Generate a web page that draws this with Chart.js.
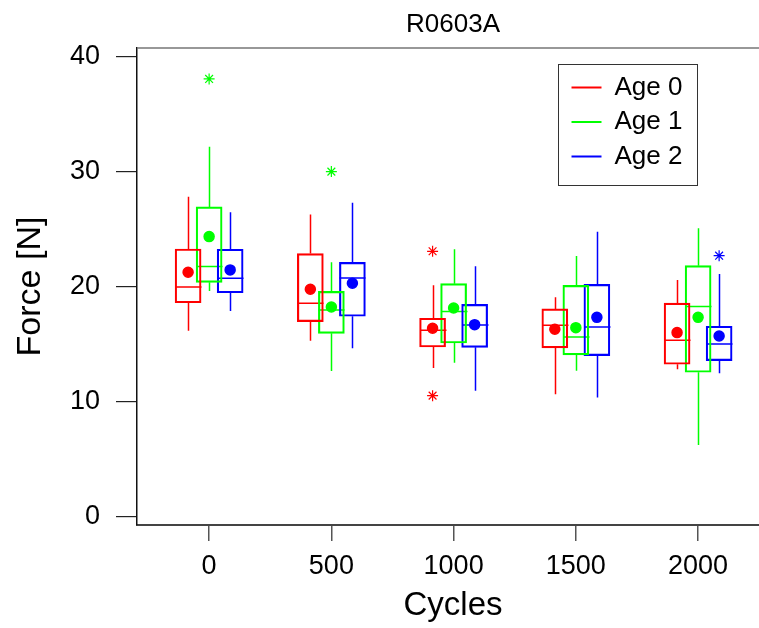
<!DOCTYPE html>
<html>
<head>
<meta charset="utf-8">
<script src="https://cdn.jsdelivr.net/npm/chart.js@4/dist/chart.umd.min.js"></script>
<style>
html, body { margin: 0; padding: 0; overflow: hidden; background: #fff; }
#wrap { width: 780px; height: 628px; }
</style>
</head>
<body>
<div id="wrap"><canvas id="chart" width="780" height="628"></canvas></div>
<script>
const cycles = [0, 500, 1000, 1500, 2000];
const yTicks = [0, 10, 20, 30, 40];
const ageLabels = ['Age 0', 'Age 1', 'Age 2'];

// one row per age, one value per cycle count
const whiskerLow = [
    [16.2, 15.33, 12.96, 10.67, 12.84],
    [19.65, 12.7, 13.42, 12.72, 6.26],
    [17.9, 14.67, 10.98, 10.38, 12.5]
];
const q1 = [
    [18.63, 16.98, 14.78, 14.7, 13.28],
    [20.4, 15.97, 15.13, 14.09, 12.58],
    [19.5, 17.45, 14.75, 14.03, 13.59]
];
const median = [
    [20.0, 18.58, 16.23, 16.67, 15.36],
    [21.77, 18.0, 17.86, 15.65, 18.29],
    [20.75, 20.78, 16.7, 16.52, 15.04]
];
const q3 = [
    [23.3, 22.9, 17.28, 18.09, 18.6],
    [26.96, 19.62, 20.29, 20.14, 21.85],
    [23.28, 22.14, 18.49, 20.23, 16.58]
];
const whiskerHigh = [
    [27.85, 26.3, 20.15, 19.1, 20.6],
    [32.2, 22.14, 23.28, 22.7, 25.1],
    [26.5, 27.33, 21.8, 24.81, 21.13]
];
const means = [
    [21.28, 19.8, 16.41, 16.32, 16.03],
    [24.38, 18.26, 18.17, 16.46, 17.36],
    [21.48, 20.32, 16.72, 17.36, 15.74]
];
const outliers = [
    [[], [], [23.1, 10.55], [], []],
    [[38.09], [30.03], [], [], []],
    [[], [], [], [], [22.72]]
];

const colors = ['#ff0000', '#00ff00', '#0000ff'];
const shift = [-86, 0, 86]; // side-by-side offset of each age within a cycle group

Chart.defaults.font.family = '"Liberation Sans", Arial, sans-serif';
Chart.defaults.color = '#000';

const datasets = [];
ageLabels.forEach((label, a) => {
    datasets.push({
        type: 'bar',
        label: label,
        data: cycles.map((c, i) => ({ x: c + shift[a], y: [q1[a][i], q3[a][i]] })),
        backgroundColor: 'rgba(0,0,0,0)',
        borderColor: colors[a],
        borderWidth: 1.5,
        borderSkipped: false,
        barThickness: 26,
        grouped: false,
        order: 3
    });
});
ageLabels.forEach((label, a) => {
    datasets.push({
        type: 'scatter',
        label: label + ' mean',
        data: cycles.map((c, i) => ({ x: c + shift[a], y: means[a][i] })),
        backgroundColor: colors[a],
        borderColor: colors[a],
        pointRadius: 5,
        pointBorderWidth: 1.5,
        order: 2
    });
    const pts = [];
    cycles.forEach((c, i) => outliers[a][i].forEach(v => pts.push({ x: c + shift[a], y: v })));
    datasets.push({
        type: 'scatter',
        label: label + ' outliers',
        data: pts,
        pointStyle: 'star',
        pointRadius: 5.5,
        borderColor: colors[a],
        pointBorderWidth: 1.2,
        order: 1
    });
});

// whiskers and median lines, positioned through the chart's scales
const boxLines = {
    id: 'boxLines',
    beforeDatasetsDraw(chart) {
        const ctx = chart.ctx;
        const xs = chart.scales.x, ys = chart.scales.y;
        ctx.save();
        ctx.lineWidth = 1.5;
        ageLabels.forEach((label, a) => {
            const meta = chart.getDatasetMeta(a);
            ctx.strokeStyle = colors[a];
            cycles.forEach((c, i) => {
                const px = Math.round(xs.getPixelForValue(c + shift[a])) + 0.5;
                const half = meta.data[i].width / 2;
                ctx.beginPath();
                ctx.moveTo(px, ys.getPixelForValue(whiskerHigh[a][i]));
                ctx.lineTo(px, ys.getPixelForValue(q3[a][i]));
                ctx.moveTo(px, ys.getPixelForValue(q1[a][i]));
                ctx.lineTo(px, ys.getPixelForValue(whiskerLow[a][i]));
                const my = ys.getPixelForValue(median[a][i]);
                ctx.moveTo(px - half, my);
                ctx.lineTo(px + half, my);
                ctx.stroke();
            });
        });
        ctx.restore();
    }
};

// top frame line and boxed legend inside the plot
const frameAndLegend = {
    id: 'frameAndLegend',
    afterDraw(chart) {
        const ctx = chart.ctx;
        const area = chart.chartArea;
        ctx.save();
        ctx.strokeStyle = '#777';
        ctx.lineWidth = 1.5;
        ctx.beginPath();
        ctx.moveTo(area.left, area.top);
        ctx.lineTo(area.right, area.top);
        ctx.lineTo(area.right, area.bottom);
        ctx.stroke();

        const box = { left: 558.5, top: 64.5, width: 139, height: 121 };
        ctx.strokeStyle = '#333';
        ctx.lineWidth = 1;
        ctx.strokeRect(box.left, box.top, box.width, box.height);
        ctx.font = '26px "Liberation Sans", Arial, sans-serif';
        ctx.textBaseline = 'middle';
        ctx.fillStyle = '#000';
        ageLabels.forEach((label, a) => {
            const y = box.top + 23 + a * 34.5;
            ctx.strokeStyle = colors[a];
            ctx.lineWidth = 2;
            ctx.beginPath();
            ctx.moveTo(box.left + 13, y);
            ctx.lineTo(box.left + 43, y);
            ctx.stroke();
            ctx.fillText(label, box.left + 56, y);
        });
        ctx.restore();
    }
};

new Chart(document.getElementById('chart'), {
    type: 'bar',
    data: { datasets: datasets },
    options: {
        responsive: false,
        animation: false,
        layout: { padding: { left: 0, top: 0, right: 11, bottom: 0 } },
        plugins: {
            legend: { display: false },
            tooltip: { enabled: false },
            title: {
                display: true,
                text: 'R0603A',
                fullSize: false,
                color: '#000',
                font: { size: 26, weight: 'normal' },
                padding: { top: 9, bottom: 7.8 }
            }
        },
        scales: {
            x: {
                type: 'linear',
                min: -295,
                max: 2290,
                offset: false,
                afterBuildTicks: axis => { axis.ticks = cycles.map(v => ({ value: v })); },
                afterFit: axis => { axis.height = 103; },
                grid: { offset: false, drawOnChartArea: false, tickLength: 16, color: '#555', lineWidth: 1.5 },
                border: { display: true, color: '#444', width: 2 },
                ticks: { font: { size: 27 }, color: '#000', padding: 9, maxRotation: 0, autoSkip: false,
                         callback: v => String(v) },
                title: { display: true, text: 'Cycles', color: '#000', font: { size: 33 }, padding: { top: 0, bottom: 2 } }
            },
            y: {
                type: 'linear',
                min: -0.7,
                max: 40.78,
                afterBuildTicks: axis => { axis.ticks = yTicks.map(v => ({ value: v })); },
                afterFit: axis => { axis.width = 137; },
                grid: { drawOnChartArea: false, tickLength: 21, color: '#222', lineWidth: 1.2 },
                border: { display: true, color: '#111', width: 1.5 },
                ticks: { font: { size: 27 }, color: '#000', padding: 16, callback: v => String(v) },
                title: { display: true, text: 'Force [N]', color: '#000', font: { size: 34 }, padding: { top: 10, bottom: 0 } }
            }
        }
    },
    plugins: [boxLines, frameAndLegend]
});
</script>
</body>
</html>
